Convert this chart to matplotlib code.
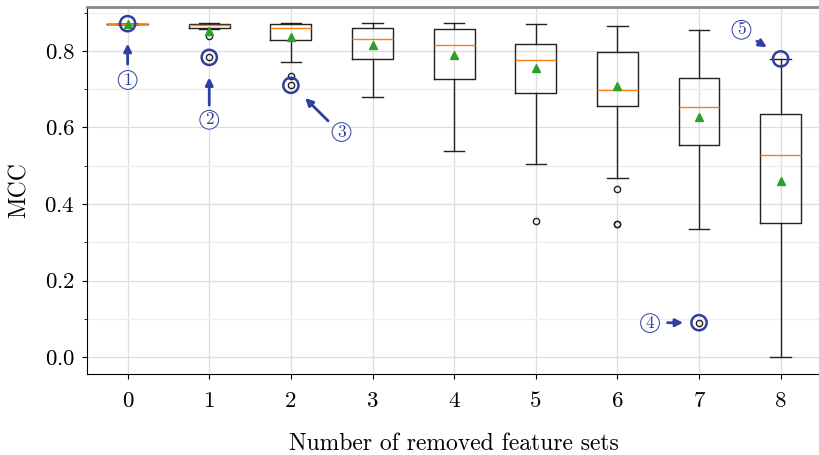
import numpy as np
import matplotlib
matplotlib.use("Agg")
import matplotlib.pyplot as plt
from matplotlib.ticker import MultipleLocator

plt.rcParams['font.family'] = ['cmr10', 'DejaVu Serif']
plt.rcParams['axes.formatter.use_mathtext'] = True

# box statistics
removed = [0, 1, 2, 3, 4, 5, 6, 7, 8]
whislo = [0.871, 0.858, 0.771, 0.680, 0.539, 0.504, 0.468, 0.335, 0.000]
q1 = [0.871, 0.860, 0.828, 0.779, 0.727, 0.689, 0.656, 0.553, 0.350]
med = [0.871, 0.868, 0.860, 0.831, 0.814, 0.776, 0.698, 0.654, 0.529]
q3 = [0.871, 0.870, 0.869, 0.860, 0.856, 0.819, 0.798, 0.730, 0.635]
whishi = [0.871, 0.872, 0.872, 0.872, 0.872, 0.871, 0.866, 0.855, 0.779]
means = [0.871, 0.852, 0.837, 0.816, 0.790, 0.755, 0.707, 0.628, 0.461]
fliers = [[], [0.840, 0.783], [0.734, 0.710], [], [], [0.355],
          [0.439, 0.347, 0.347], [0.090], []]

# highlighted points and their labels
hl_x = [0, 1, 2, 7, 8]
hl_y = [0.871, 0.783, 0.710, 0.090, 0.779]
labels = ["1", "2", "3", "4", "5"]
label_xy = [(0, 0.724), (1, 0.620), (2.62, 0.588), (6.40, 0.089), (7.52, 0.855)]
arrow_from = [(0, 0.758), (1, 0.651), (2.48, 0.612), (6.58, 0.090), (7.68, 0.829)]
arrow_to = [(0, 0.826), (1, 0.738), (2.15, 0.682), (6.84, 0.090), (7.86, 0.806)]

blue = "#2f3f9e"

stats = []
for i in range(len(removed)):
    stats.append(dict(whislo=whislo[i], q1=q1[i], med=med[i], q3=q3[i],
                      whishi=whishi[i], mean=means[i], fliers=fliers[i]))

fig = plt.figure(figsize=(8.19, 4.55), dpi=100)
ax = fig.add_axes([0.106, 0.178, 0.897, 0.807])

ax.bxp(stats, positions=removed, showmeans=True, widths=0.5,
       boxprops=dict(color="#222222", linewidth=1.0),
       whiskerprops=dict(color="#222222", linewidth=1.0),
       capprops=dict(color="#222222", linewidth=1.0),
       medianprops=dict(color="#ff7f0e", linewidth=1.0),
       meanprops=dict(marker="^", markerfacecolor="#2ca02c", markeredgecolor="#2ca02c", markersize=6),
       flierprops=dict(marker="o", markerfacecolor="none", markeredgecolor="#222222", markersize=4.5))

ax.scatter(hl_x, hl_y, s=120, facecolors="none", edgecolors=blue, linewidths=1.8, zorder=5)

for lab, (tx, ty) in zip(labels, label_xy):
    ax.text(tx, ty, lab, color=blue, fontsize=12.5, ha="center", va="center",
            bbox=dict(boxstyle="circle,pad=0.1", fc="white", ec=blue, lw=0.7), zorder=6)
for (x0, y0), (x1, y1) in zip(arrow_from, arrow_to):
    ax.annotate("", xy=(x1, y1), xytext=(x0, y0),
                arrowprops=dict(arrowstyle="-|>", color=blue, lw=2, mutation_scale=11), zorder=6)

ax.set_xlim(-0.5, 8.5)
ax.set_ylim(-0.044, 0.915)
ax.set_xticks(removed)
ax.set_xticklabels([str(r) for r in removed])
ax.yaxis.set_major_locator(MultipleLocator(0.2))
ax.yaxis.set_minor_locator(MultipleLocator(0.1))
ax.grid(True, which="major", color="#dddddd", linewidth=0.9)
ax.grid(True, which="minor", axis="y", color="#eeeeee", linewidth=0.9)
ax.set_axisbelow(True)
ax.tick_params(labelsize=16.5)
ax.tick_params(axis="x", pad=9)
ax.tick_params(axis="y", pad=5)
ax.tick_params(axis="y", which="minor", length=2)
ax.spines["top"].set_color("#888888")
ax.spines["top"].set_linewidth(2)
ax.spines["right"].set_visible(False)

ax.set_ylabel("MCC", fontsize=17, labelpad=10)
ax.set_xlabel("Number of removed feature sets", fontsize=17, labelpad=16)

fig.savefig("out.png", dpi=100)
